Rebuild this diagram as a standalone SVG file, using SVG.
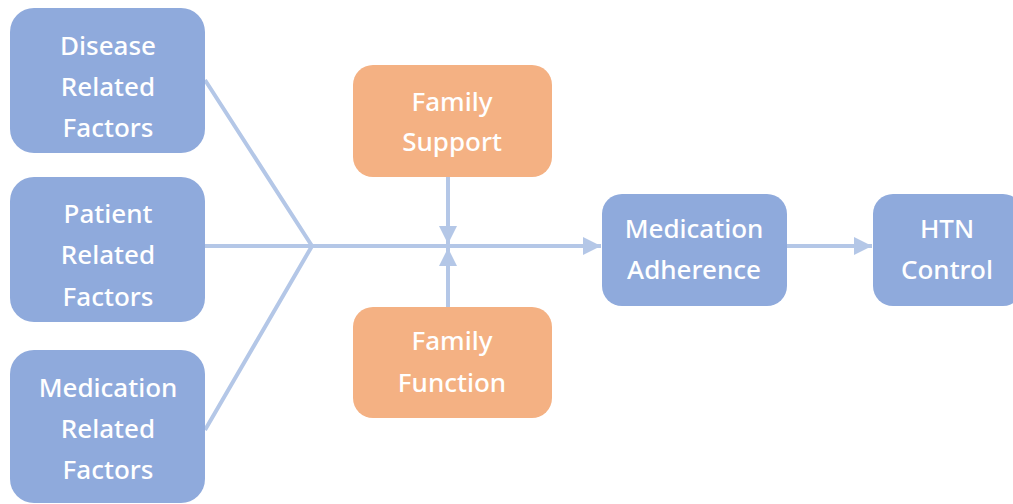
<svg xmlns="http://www.w3.org/2000/svg" width="1013" height="504" viewBox="0 0 1013 504">
<style>
.b{fill:#8faadc}
.o{fill:#f4b183}
text{font-family:"Noto Sans","Open Sans",sans-serif;font-size:26px;font-weight:500;fill:#fff;text-anchor:middle}
.c{stroke:#b4c7e7;stroke-width:4;fill:none}
</style>
<defs>
<marker id="ah" viewBox="0 0 10 10" refX="10" refY="5" markerWidth="4.5" markerHeight="4.5" orient="auto" markerUnits="strokeWidth">
<path d="M0,0 L10,5 L0,10 z" fill="#b4c7e7"/>
</marker>
</defs>
<g id="connectors">
<path class="c" d="M205,80 L312,246 L205,430"/>
<path class="c" d="M205,246 L601,246" marker-end="url(#ah)"/>
<path class="c" d="M448,177 L448,244" marker-end="url(#ah)"/>
<path class="c" d="M448,307 L448,248" marker-end="url(#ah)"/>
<path class="c" d="M787,246 L872,246" marker-end="url(#ah)"/>
</g>
<g id="disease">
<rect class="b" x="10" y="8" width="195" height="145" rx="24"/>
<text x="108" y="55">Disease</text><text x="108" y="96">Related</text><text x="108" y="137">Factors</text>
</g>
<g id="patient">
<rect class="b" x="10" y="177" width="195" height="145" rx="24"/>
<text x="108" y="223">Patient</text><text x="108" y="264">Related</text><text x="108" y="306">Factors</text>
</g>
<g id="medication">
<rect class="b" x="10" y="350" width="195" height="153" rx="24"/>
<text x="108" y="397">Medication</text><text x="108" y="438">Related</text><text x="108" y="479">Factors</text>
</g>
<g id="support">
<rect class="o" x="353" y="65" width="199" height="112" rx="20"/>
<text x="452" y="111">Family</text><text x="452" y="151">Support</text>
</g>
<g id="function">
<rect class="o" x="353" y="307" width="199" height="111" rx="20"/>
<text x="452" y="350">Family</text><text x="452" y="392">Function</text>
</g>
<g id="adherence">
<rect class="b" x="602" y="194" width="185" height="112" rx="20"/>
<text x="694" y="238">Medication</text><text x="694" y="279">Adherence</text>
</g>
<g id="htn">
<rect class="b" x="873" y="194" width="150" height="112" rx="20"/>
<text x="947" y="238">HTN</text><text x="947" y="279">Control</text>
</g>
</svg>
